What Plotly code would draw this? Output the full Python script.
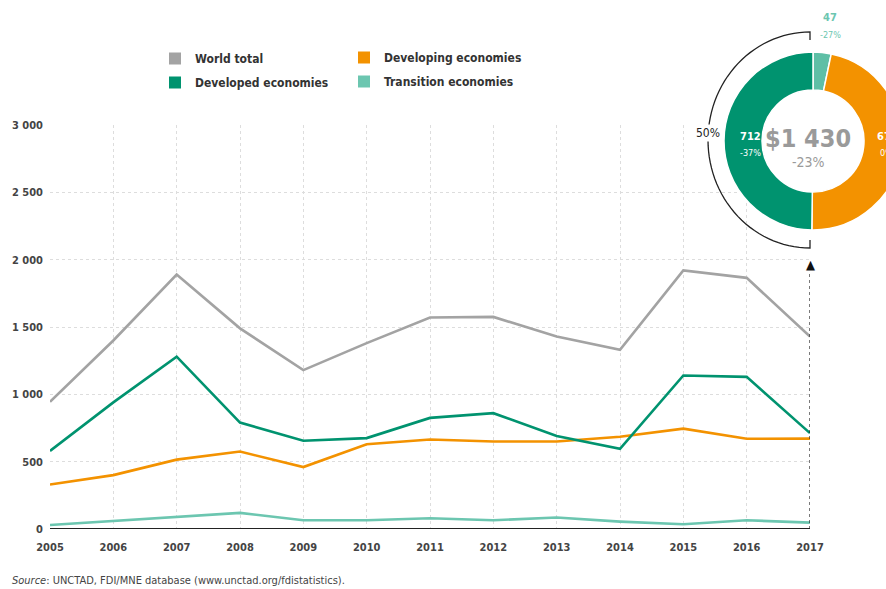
import plotly.graph_objects as go
import math

years = list(range(2005, 2018))
world = [945, 1400, 1890, 1490, 1180, 1380, 1570, 1575, 1430, 1330, 1920, 1865, 1430]
developed = [580, 940, 1280, 790, 655, 675, 825, 860, 690, 595, 1140, 1130, 712]
developing = [330, 400, 515, 575, 460, 630, 665, 650, 650, 685, 745, 670, 671]
transition = [30, 60, 90, 120, 65, 65, 80, 65, 85, 55, 35, 65, 47]

pie_labels = ["Transition economies", "Developing economies", "Developed economies"]
pie_values = [47, 671, 712]
pie_changes = ["-27%", "0%", "-37%"]
total_label = "$1 430"
total_change = "-23%"
share_label = "50%"

yticks = [0, 500, 1000, 1500, 2000, 2500, 3000]
yticktext = ["0", "500", "1 000", "1 500", "2 000", "2 500", "3 000"]

C_WORLD = "#A3A3A3"
C_DEV = "#00936F"
C_DEVING = "#F39200"
C_TRANS = "#6CC6B0"
FONT = "DejaVu Sans Condensed, Roboto, Arial"

# body margin is removed below, so coordinates are screen pixels
OFF = 0
W, H = 910, 589
def px(x):
    return (x - OFF) / W
def py(y):
    return 1 - (y - OFF) / H

fig = go.Figure()

series = [("World total", world, C_WORLD, "legend", "g1"),
          ("Developed economies", developed, C_DEV, "legend", "g2"),
          ("Developing economies", developing, C_DEVING, "legend2", "g3"),
          ("Transition economies", transition, C_TRANS, "legend2", "g4")]

for name, vals, col, lg, grp in [series[3], series[2], series[1], series[0]]:
    fig.add_trace(go.Scatter(x=years, y=vals, mode="lines", name=name,
                             line=dict(color=col, width=2.6), showlegend=False,
                             hoverinfo="skip"))

for name, vals, col, lg, grp in series:
    fig.add_trace(go.Scatter(x=[None], y=[None], mode="markers", name=f"<b>{name}</b>",
                             marker=dict(symbol="square", size=13, color=col),
                             legend=lg, legendgroup=grp, showlegend=True))

# donut (screen centre 813,141, outer r 89, inner r 51)
cx, cy, r = 813, 141, 89
fig.add_trace(go.Pie(labels=pie_labels, values=pie_values, sort=False,
                     direction="clockwise", rotation=0, hole=51 / 89,
                     marker=dict(colors=["#5EBFA6", C_DEVING, C_DEV],
                                 line=dict(color="white", width=1.5)),
                     textinfo="none", showlegend=False, hoverinfo="skip",
                     domain=dict(x=[px(cx - r), px(cx + r)], y=[py(cy + r), py(cy - r)])))

fig.update_layout(
    width=W, height=H, margin=dict(l=0, r=0, t=0, b=0, autoexpand=False),
    paper_bgcolor="white", plot_bgcolor="white",
    font=dict(family=FONT, color="#333"),
    xaxis=dict(domain=[px(50), px(810)], range=[2005, 2017], tickvals=years,
               ticktext=[f"<b>{y}</b>" for y in years],
               showgrid=True, gridcolor="#DDDDDD", griddash="dot", gridwidth=1,
               zeroline=False, showline=False, ticks="", automargin=False,
               tickfont=dict(size=11, color="#444", family=FONT), ticklabelstandoff=10),
    yaxis=dict(domain=[py(529), py(125)], range=[0, 3000], tickvals=yticks,
               ticktext=[f"<b>{t}</b>" for t in yticktext], showgrid=True,
               gridcolor="#DDDDDD", griddash="dot",
               zeroline=False, showline=False, ticks="", automargin=False,
               ticklabelstandoff=6,
               tickfont=dict(size=11, color="#444", family=FONT)),
    legend=dict(x=px(155), y=py(44), xanchor="left", yanchor="top",
                font=dict(size=12, color="#333", family=FONT), tracegroupgap=5,
                itemsizing="constant", itemwidth=30, bgcolor="rgba(0,0,0,0)"),
    legend2=dict(x=px(344), y=py(43), xanchor="left", yanchor="top",
                 font=dict(size=12, color="#333", family=FONT), tracegroupgap=5,
                 itemsizing="constant", itemwidth=30, bgcolor="rgba(0,0,0,0)"),
)

# zero baseline
fig.add_shape(type="line", xref="x", yref="y", x0=2005, x1=2017, y0=0, y1=0,
              line=dict(color="#222", width=2))
# dotted line at 2017
fig.add_shape(type="line", xref="x", yref="y", x0=2017, x1=2017, y0=0, y1=1900,
              line=dict(color="#222", width=1.2, dash="dot"))
fig.add_annotation(x=2017, y=1965, xref="x", yref="y", text="▲", showarrow=False,
                   xanchor="center", yanchor="middle",
                   font=dict(size=13, color="#111"))

# bracket around developed half
bx, by, brx, bry = 810, 140, 102, 108
pts = []
for i in range(0, 61):
    a = math.pi / 2 + math.pi * i / 60
    pts.append((bx + brx * math.cos(a), by - bry * math.sin(a)))
d = f"M {px(bx)},{py(by-bry+8)} L {px(bx)},{py(by-bry)} "
d += " ".join(f"L {px(x)},{py(y)}" for x, y in pts)
d += f" L {px(bx)},{py(by+bry)} L {px(bx)},{py(by+bry-8)}"
fig.add_shape(type="path", xref="paper", yref="paper", path=d,
              line=dict(color="#222", width=1.3))

def note(x, y, text, size, color, anchor="center", bg=None):
    fig.add_annotation(x=px(x), y=py(y), xref="paper", yref="paper", text=text,
                       showarrow=False, xanchor=anchor, yanchor="middle",
                       bgcolor=bg, borderpad=1,
                       font=dict(size=size, color=color, family=FONT))

note(bx - brx, 133, share_label, 12, "#222", bg="white")
note(808, 138, f"<b>{total_label}</b>", 25, "#9A9A9A")
note(808, 162, total_change, 14, "#9A9A9A")
note(750, 137, f"<b>{pie_values[2]}</b>", 11, "white")
note(750, 153, pie_changes[2], 9, "white")
note(875, 137, f"<b>{pie_values[1]}</b>", 11, "white", anchor="left")
note(878, 153, pie_changes[1], 9, "white", anchor="left")
note(830, 18, f"<b>{pie_values[0]}</b>", 11, C_TRANS)
note(830, 35, pie_changes[0], 9, C_TRANS)

# source
note(10, 580, "<i>Source</i>: UNCTAD, FDI/MNE database (www.unctad.org/fdistatistics).",
     11, "#444", anchor="left")

fig.write_html("out.html", config={"displayModeBar": False},
               post_script="document.body.style.margin='0';"
                           "document.documentElement.style.overflow='hidden';"
                           "document.body.style.overflow='hidden';")
